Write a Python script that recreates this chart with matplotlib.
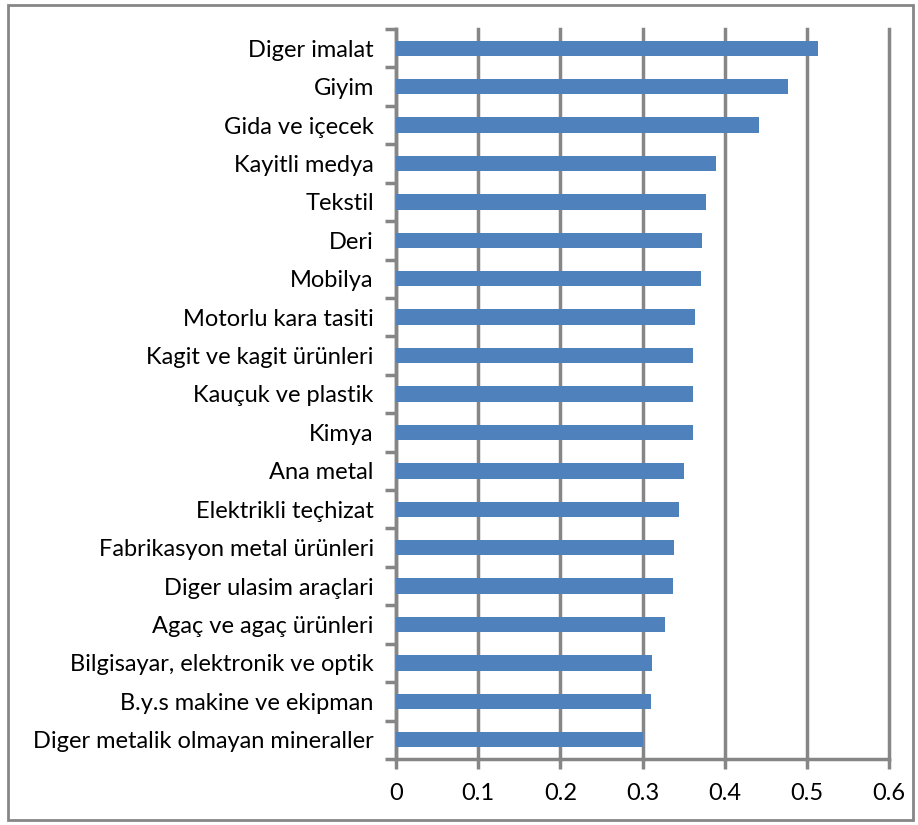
import matplotlib
matplotlib.use("Agg")
import matplotlib.pyplot as plt
from matplotlib.patches import Rectangle
import numpy as np

categories = [
    "Diger imalat", "Giyim", "Gida ve içecek", "Kayitli medya", "Tekstil",
    "Deri", "Mobilya", "Motorlu kara tasiti", "Kagit ve kagit ürünleri",
    "Kauçuk ve plastik", "Kimya", "Ana metal", "Elektrikli teçhizat",
    "Fabrikasyon metal ürünleri", "Diger ulasim araçlari",
    "Agaç ve agaç ürünleri", "Bilgisayar, elektronik ve optik",
    "B.y.s makine ve ekipman", "Diger metalik olmayan mineraller",
]
values = [0.514, 0.4765, 0.442, 0.390, 0.377, 0.373, 0.371, 0.3635, 0.3615,
          0.3615, 0.3615, 0.350, 0.3445, 0.3385, 0.337, 0.3275, 0.312, 0.310, 0.300]
xticks = [0, 0.1, 0.2, 0.3, 0.4, 0.5, 0.6]
xticklabels = ["0", "0.1", "0.2", "0.3", "0.4", "0.5", "0.6"]

plt.rcParams['font.family'] = ['Lato', 'DejaVu Sans']

fig = plt.figure(figsize=(9.18, 8.25), dpi=100)
ax = fig.add_axes([396/918, 1-759/825, (889-396)/918, (759-29)/825])

n = len(categories)
y = np.arange(n)[::-1]
ax.barh(y, values, height=0.4, color="#4F81BD", zorder=3)

ax.set_xlim(0, 0.6)
ax.set_ylim(-0.5, n-0.5)
ax.set_xticks(xticks)
ax.set_xticklabels(xticklabels, fontsize=17)
ax.set_yticks(y)
ax.set_yticklabels(categories, fontsize=17)
ax.tick_params(axis='y', which='major', length=0, pad=16)
ax.set_yticks(np.arange(-0.5, n, 1), minor=True)
ax.tick_params(axis='y', which='minor', length=8, width=2.5, color="#868686")
ax.tick_params(axis='x', length=7, width=2.5, color="#868686", pad=10)

ax.grid(axis='x', color="#868686", linewidth=2.5, zorder=0)
for gl in ax.get_xgridlines():
    gl.set_clip_on(False)
for s in ['top', 'right']:
    ax.spines[s].set_visible(False)
for s in ['left', 'bottom']:
    ax.spines[s].set_color("#868686")
    ax.spines[s].set_linewidth(2.5)

fig.patches.append(Rectangle((8/918, 5/825), 905/918, 815/825, transform=fig.transFigure,
                             fill=False, edgecolor="#868686", linewidth=2))

fig.savefig("out.png", dpi=100)
